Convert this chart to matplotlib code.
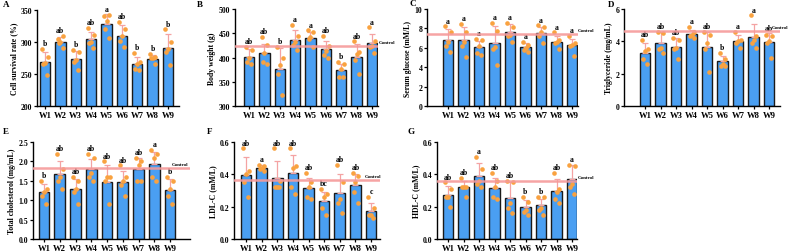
import matplotlib
matplotlib.use("Agg")
import matplotlib.pyplot as plt
import numpy as np

plt.rcParams['font.family'] = ['Liberation Serif', 'DejaVu Serif']
plt.rcParams['font.weight'] = 'bold'

groups = ["W1", "W2", "W3", "W4", "W5", "W6", "W7", "W8", "W9"]

# ---- Panel A: cell survival rate ----
a_mean = [268, 300, 273, 304, 328, 310, 265, 274, 291]
a_errtop = [284, 308, 286, 316, 343, 327, 276, 280, 313]
a_pts = [[289, 277, 267, 266, 248], [305, 310, 300, 298, 290], [288, 285, 272, 269, 256],
         [322, 311, 300, 298, 291], [341, 342, 333, 320, 306], [332, 320, 309, 301, 292],
         [283, 269, 266, 258, 256], [281, 277, 275, 275, 266], [320, 300, 289, 285, 264]]
a_letters = ["b", "ab", "b", "ab", "a", "ab", "b", "b", "b"]

# ---- Panel B: body weight ----
b_mean = [402, 410, 377, 436, 441, 417, 374, 402, 430]
b_errtop = [418, 427, 420, 456, 452, 435, 387, 428, 449]
b_pts = [[422, 415, 400, 390, 386], [443, 425, 410, 390, 387], [422, 398, 385, 365, 322],
         [467, 444, 432, 425, 416], [456, 453, 443, 438, 422], [444, 423, 413, 406, 399],
         [391, 386, 377, 360, 360], [433, 412, 408, 395, 365], [462, 433, 424, 422, 410]]
b_letters = ["ab", "ab", "b", "a", "a", "ab", "b", "ab", "a"]
b_control = 424

# ---- Panel C: serum glucose ----
c_mean = [6.83, 6.8, 6.1, 6.5, 7.6, 6.05, 7.5, 6.6, 6.25]
c_errtop = [7.9, 8.1, 6.7, 8.2, 8.5, 6.5, 8.1, 7.2, 6.9]
c_pts = [[8.2, 7.6, 6.6, 6.2, 5.6], [8.5, 7.6, 6.6, 6.2, 5.1], [6.9, 6.8, 6.2, 5.5, 5.3],
         [8.6, 7.7, 6.1, 5.9, 4.2], [8.6, 8.1, 7.3, 7.2, 6.6], [6.6, 6.3, 6.0, 5.8, 5.6],
         [8.3, 8.1, 7.6, 7.2, 6.5], [7.6, 6.8, 6.6, 6.5, 5.9], [7.2, 6.5, 6.3, 6.2, 5.2]]
c_letters = ["a"] * 9
c_control = 7.4

# ---- Panel D: triglyceride ----
d_mean = [3.3, 3.9, 3.65, 4.47, 3.68, 2.77, 4.05, 4.26, 3.93]
d_errtop = [3.9, 4.6, 4.2, 4.7, 4.6, 3.1, 4.4, 5.05, 4.5]
d_pts = [[4.1, 3.5, 3.4, 2.9, 2.6], [4.6, 4.5, 3.6, 3.5, 3.3], [4.2, 4.1, 3.6, 3.5, 2.9],
         [4.9, 4.6, 4.4, 4.3, 4.2], [4.6, 4.4, 3.9, 3.5, 2.1], [3.3, 2.9, 2.6, 2.5, 2.5],
         [4.6, 4.1, 4.0, 3.9, 3.6], [5.6, 4.3, 4.1, 3.9, 3.6], [4.4, 4.3, 4.0, 3.9, 3.0]]
d_letters = ["ab", "ab", "ab", "a", "ab", "b", "a", "a", "ab"]
d_control = 4.63

# ---- Panel E: total cholesterol ----
e_mean = [1.2, 1.67, 1.3, 1.81, 1.47, 1.48, 1.8, 1.93, 1.27]
e_errtop = [1.43, 2.02, 1.55, 2.05, 1.9, 1.75, 2.1, 2.25, 1.55]
e_pts = [[1.5, 1.3, 1.2, 1.1, 0.9], [2.2, 1.8, 1.6, 1.5, 1.3], [1.6, 1.5, 1.3, 1.2, 0.9],
         [2.2, 2.1, 1.7, 1.6, 1.5], [2.0, 1.6, 1.6, 1.5, 0.9], [1.9, 1.6, 1.5, 1.4, 1.1],
         [2.1, 2.0, 1.9, 1.5, 1.5], [2.3, 2.2, 2.1, 1.6, 1.5], [1.6, 1.5, 1.3, 1.1, 0.9]]
e_letters = ["b", "ab", "ab", "ab", "ab", "ab", "ab", "a", "b"]
e_control = 1.84

# ---- Panel F: LDL-C ----
f_mean = [0.397, 0.44, 0.376, 0.41, 0.316, 0.238, 0.287, 0.333, 0.176]
f_errtop = [0.505, 0.455, 0.48, 0.52, 0.38, 0.29, 0.405, 0.40, 0.225]
f_pts = [[0.56, 0.42, 0.40, 0.35, 0.26], [0.46, 0.45, 0.44, 0.43, 0.42], [0.56, 0.36, 0.32, 0.32, 0.32],
         [0.56, 0.45, 0.44, 0.32, 0.28], [0.41, 0.35, 0.32, 0.26, 0.25], [0.31, 0.28, 0.26, 0.19, 0.15],
         [0.46, 0.35, 0.25, 0.22, 0.16], [0.41, 0.39, 0.35, 0.29, 0.22], [0.26, 0.19, 0.15, 0.15, 0.13]]
f_letters = ["ab", "a", "ab", "ab", "ab", "bc", "ab", "ab", "c"]
f_control = 0.366

# ---- Panel G: HDL-C ----
g_mean = [0.275, 0.32, 0.39, 0.317, 0.255, 0.2, 0.208, 0.296, 0.37]
g_errtop = [0.33, 0.36, 0.47, 0.38, 0.35, 0.24, 0.25, 0.37, 0.46]
g_pts = [[0.35, 0.31, 0.26, 0.26, 0.20], [0.38, 0.32, 0.32, 0.32, 0.26], [0.51, 0.43, 0.36, 0.34, 0.32],
         [0.41, 0.36, 0.32, 0.26, 0.25], [0.36, 0.35, 0.22, 0.19, 0.16], [0.26, 0.23, 0.18, 0.17, 0.15],
         [0.26, 0.26, 0.19, 0.18, 0.15], [0.41, 0.31, 0.29, 0.25, 0.22], [0.46, 0.45, 0.34, 0.32, 0.28]]
g_letters = ["ab", "ab", "a", "ab", "ab", "b", "b", "ab", "a"]
g_control = 0.358

W, H = 788, 253
fig = plt.figure(figsize=(W / 100, H / 100), dpi=100)

BAR_C = "#4a9ff2"
PT_C = "#f9a240"
ERR_C = "#f4a3a3"
CTRL_C = "#f59a9a"
jit = [-0.18, 0.18, 0.0, -0.12, 0.14]


def panel(label, lab_px, L, R, T, B, W1, W9, mean, errtop, pts, letters, ylim, yticks,
          yfmt, ylabel, control=None, ctrl_px=None):
    ax = fig.add_axes([L / W, 1 - B / H, (R - L) / W, (B - T) / H])
    unit = (W9 - W1) / 8.0
    x = np.arange(len(groups))
    ax.bar(x, mean, width=0.68, color=BAR_C, edgecolor="#1a1a1a", linewidth=1.0, zorder=2)
    err = np.array(errtop) - np.array(mean)
    ax.errorbar(x, mean, yerr=[np.zeros_like(err), err], fmt="none", ecolor=ERR_C,
                elinewidth=0.9, capsize=2.5, capthick=0.9, zorder=3)
    for i, p in enumerate(pts):
        ax.scatter(i + np.array(jit[:len(p)]), p, s=11, color=PT_C, zorder=4, linewidths=0)
    for i, t in enumerate(letters):
        top = max(errtop[i], max(pts[i]))
        ax.annotate(t, (i, top), xytext=(0, 1.2), textcoords="offset points",
                    ha="center", va="bottom", fontsize=5.6, fontweight="bold")
    if control is not None:
        ax.axhline(control, color=CTRL_C, lw=1.8, zorder=5, alpha=0.9)
        ax.annotate("Control", ((ctrl_px - W1) / unit, control), xytext=(0, 1.5),
                    textcoords="offset points", ha="left", va="bottom", fontsize=3.6,
                    annotation_clip=False)
    ax.set_xlim(-(W1 - L) / unit, 8 + (R - W9) / unit)
    ax.set_ylim(*ylim)
    ax.set_yticks(yticks)
    ax.set_yticklabels([yfmt.format(v) for v in yticks], fontsize=5.6, fontweight="bold")
    ax.set_xticks(x)
    ax.set_xticklabels(groups, fontsize=6.2, fontweight="bold")
    ax.spines["top"].set_visible(False)
    ax.spines["right"].set_visible(False)
    ax.spines["left"].set_linewidth(1.0)
    ax.spines["bottom"].set_linewidth(1.0)
    ax.tick_params(axis="both", length=2.2, width=0.9, pad=1.2)
    ax.set_ylabel(ylabel, fontsize=5.6, fontweight="bold", labelpad=2)
    fig.text(lab_px[0] / W, 1 - lab_px[1] / H, label, fontsize=6.5, fontweight="bold",
             ha="left", va="center")
    return ax


panel("A", (3, 5), 37, 179, 11, 107, 45, 168, a_mean, a_errtop, a_pts, a_letters,
      (200, 350), [200, 250, 300, 350], "{:.0f}", "Cell survival rate (%)")
panel("B", (197, 5), 235, 378, 10, 107, 249, 372, b_mean, b_errtop, b_pts, b_letters,
      (300, 500), [300, 350, 400, 450, 500], "{:.0f}", "Body weight (g)", b_control, 379)
panel("C", (409, 4), 427, 578, 10, 107, 448, 572, c_mean, c_errtop, c_pts, c_letters,
      (0, 10), [0, 2, 4, 6, 8, 10], "{:.0f}", "Serum glucose (mM/L)", c_control, 578)
panel("D", (608, 5), 624, 780, 10, 107, 645, 769, d_mean, d_errtop, d_pts, d_letters,
      (0, 6), [0, 2, 4, 6], "{:.0f}", "Triglyceride (mg/mL)", d_control, 772)
panel("E", (3, 132), 33, 190, 143, 240, 44, 170, e_mean, e_errtop, e_pts, e_letters,
      (0, 2.5), [0.0, 0.5, 1.0, 1.5, 2.0, 2.5], "{:.1f}", "Total cholesterol (mg/mL)",
      e_control, 172)
panel("F", (207, 132), 234, 380, 143, 240, 246, 371, f_mean, f_errtop, f_pts, f_letters,
      (0, 0.6), [0.0, 0.2, 0.4, 0.6], "{:.1f}", "LDL-C (mM/L)", f_control, 365)
panel("G", (408, 132), 437, 577, 143, 240, 448, 572, g_mean, g_errtop, g_pts, g_letters,
      (0, 0.6), [0.0, 0.2, 0.4, 0.6], "{:.1f}", "HDL-C (mM/L)", g_control, 578)

fig.savefig("out.png", dpi=100)
